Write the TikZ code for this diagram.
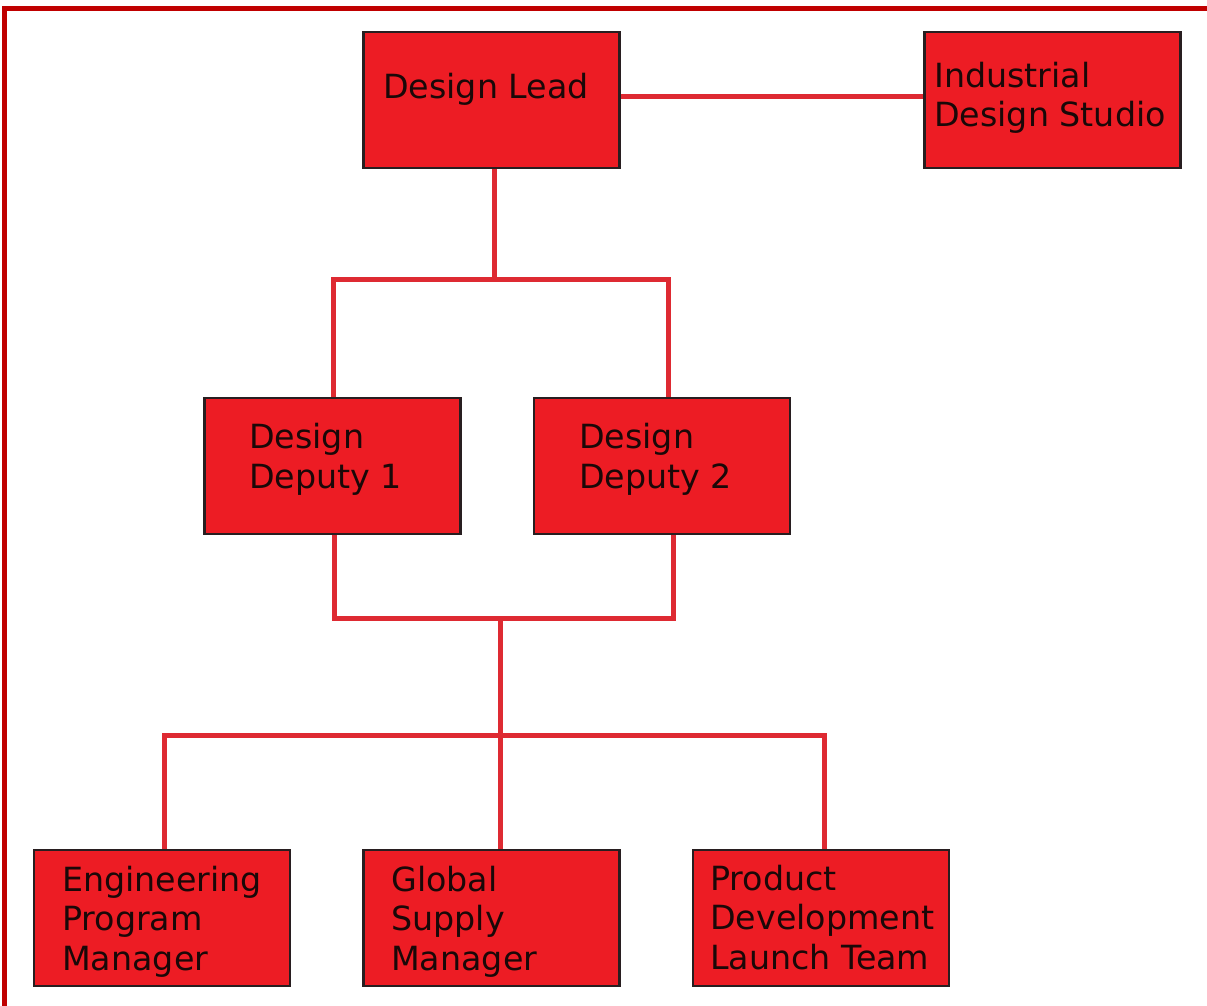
\documentclass[tikz,border=0pt]{standalone}
\usepackage{fontspec}
\setmainfont{DejaVu Sans}
\definecolor{boxred}{RGB}{237,28,36}
\definecolor{boxedge}{RGB}{40,30,32}
\definecolor{linered}{RGB}{222,42,50}
\definecolor{framered}{RGB}{192,0,0}
\definecolor{txt}{RGB}{26,8,8}
\begin{document}
\begin{tikzpicture}[x=1pt,y=-1pt,
  box/.style={draw=boxedge,line width=2.2pt,fill=boxred,rectangle,inner sep=0pt,
    minimum width=256pt,minimum height=136pt},
  lbl/.style={anchor=base west,inner sep=0pt,align=left,text=txt,
    font=\fontsize{33.3}{39.5}\selectfont},
  conn/.style={draw=linered,line width=5pt,line join=miter}]
\useasboundingbox (0,0) rectangle (1207,1006);
\fill[white] (0,0) rectangle (1207,1006);
% frame
\coordinate (fa) at (4,1006);
\coordinate (fb) at (4,8.5);
\coordinate (fc) at (1207,8.5);
\draw[framered,line width=5pt,line join=miter] (fa) -- (fb) -- (fc);
% junction points
\coordinate (j1) at (494,279);
\coordinate (j2) at (500,618);
\coordinate (j3) at (500,735);
% boxes
\node[box] (lead) at (491.5,100) {};
\node[box] (studio) at (1052.5,100) {};
\node[box] (dep1) at (332.5,466) {};
\node[box] (dep2) at (662,466) {};
\node[box] (epm) at (162,918) {};
\node[box] (gsm) at (491.5,918) {};
\node[box] (pdlt) at (821,918) {};
% connectors
\draw[conn] ([yshift=3pt]lead.east) -- ([yshift=3pt]studio.west);
\draw[conn] ([xshift=2.5pt]lead.south) -- (j1);
\draw[conn] ([xshift=0.5pt]dep1.north) |- (j1) -| ([xshift=6pt]dep2.north);
\draw[conn] ([xshift=1.5pt]dep1.south) |- (j2) -| ([xshift=11pt]dep2.south);
\draw[conn] (j2) -- (j2 |- gsm.north);
\draw[conn] ([xshift=2pt]epm.north) |- (j3) -| ([xshift=3pt]pdlt.north);
% labels (base anchor = baseline of last line)
\node[lbl] (tlead) at (383,99) {Design Lead};
\node[lbl] (tstudio) at (934,127) {Industrial\\Design Studio};
\node[lbl] (tdep1) at (249,488) {Design\\Deputy 1};
\node[lbl] (tdep2) at (579,488) {Design\\Deputy 2};
\node[lbl] (tepm) at (62,970) {Engineering\\Program\\Manager};
\node[lbl] (tgsm) at (391,970) {Global\\Supply\\Manager};
\node[lbl] (tpdlt) at (710,969) {Product\\Development\\Launch Team};
\end{tikzpicture}
\end{document}
